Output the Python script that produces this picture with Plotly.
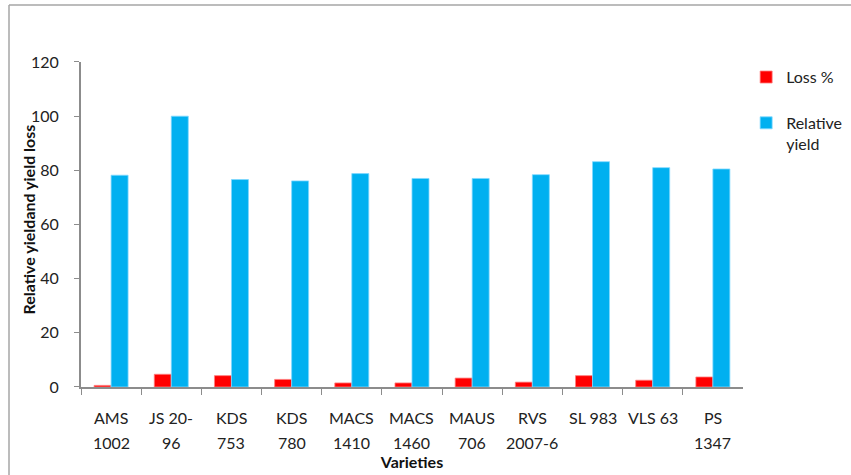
import plotly.graph_objects as go

varieties = ['AMS 1002', 'JS 20-96', 'KDS 753', 'KDS 780', 'MACS 1410',
             'MACS 1460', 'MAUS 706', 'RVS 2007-6', 'SL 983', 'VLS 63', 'PS 1347']
label_line1 = ['AMS', 'JS 20-', 'KDS', 'KDS', 'MACS', 'MACS', 'MAUS', 'RVS', 'SL 983', 'VLS 63', 'PS']
label_line2 = ['1002', '96', '753', '780', '1410', '1460', '706', '2007-6', '', '', '1347']
loss_pct = [0.6, 4.7, 4.2, 2.8, 1.5, 1.5, 3.3, 1.8, 4.2, 2.5, 3.7]
relative_yield = [78.2, 100.0, 76.6, 76.1, 78.8, 77.0, 77.0, 78.4, 83.2, 81.0, 80.5]

font_family = 'Lato, Calibri, Arial'
text_color = '#222'

fig = go.Figure()

fig.add_trace(go.Bar(
    x=varieties, y=loss_pct, name='Loss %', legendgroup='loss',
    marker=dict(color='#FF0000', line=dict(color='#FF8080', width=0.8))
))
fig.add_trace(go.Bar(
    x=varieties, y=relative_yield, name='Relative<br>yield', legendgroup='yield',
    marker=dict(color='#00B0F0', line=dict(color='#80D8FF', width=0.8))
))

# two-line category labels with Excel-like line spacing
for cat, l1, l2 in zip(varieties, label_line1, label_line2):
    fig.add_annotation(x=cat, xref='x', y=0, yref='paper', text=l1, showarrow=False,
                       yanchor='middle', yshift=-30,
                       font=dict(size=16, color=text_color, family=font_family))
    if l2:
        fig.add_annotation(x=cat, xref='x', y=0, yref='paper', text=l2, showarrow=False,
                           yanchor='middle', yshift=-55,
                           font=dict(size=16, color=text_color, family=font_family))

# y-axis title
fig.add_annotation(x=0, xref='paper', y=0.4683, yref='paper', yshift=5, xshift=-53,
                   text='<b>Relative yieldand yield loss</b>', textangle=-90,
                   showarrow=False, xanchor='center', yanchor='middle',
                   font=dict(size=16, color='#111', family=font_family))

fig.update_xaxes(
    domain=[0, 0.8597],
    title_text='<b>Varieties</b>',
    title_font=dict(size=16, color='#111', family=font_family),
    title_standoff=69,
    showline=True, linecolor='#8C8C8C', linewidth=1.5,
    ticks='outside', tickson='boundaries', ticklen=6, tickcolor='#8C8C8C',
    showticklabels=False,
    showgrid=False, automargin=False
)
fig.update_yaxes(
    domain=[0, 0.9366],
    range=[0, 120], dtick=20,
    showline=True, linecolor='#8C8C8C', linewidth=1.5,
    ticks='outside', ticklen=5, tickcolor='#8C8C8C',
    ticksuffix='\u00a0\u00a0\u00a0',
    tickfont=dict(size=16, color=text_color, family=font_family),
    showgrid=False, zeroline=False, automargin=False
)

# chart-area frame (only left and top edges fall inside the picture)
fig.add_shape(type='line', xref='paper', yref='paper',
              x0=-0.0935, x1=-0.0935, y0=-0.3, y1=1.101,
              line=dict(color='#A6A6A6', width=1.5))
fig.add_shape(type='line', xref='paper', yref='paper',
              x0=-0.0935, x1=1.1, y0=1.101, y1=1.101,
              line=dict(color='#A6A6A6', width=1.5))

fig.update_layout(
    width=851, height=475,
    barmode='group', bargap=0.435, bargroupgap=0,
    margin=dict(l=81, r=0, t=40, b=88),
    plot_bgcolor='white',
    paper_bgcolor='white',
    font=dict(family=font_family, color=text_color),
    legend=dict(
        x=0.995, y=0.942, xanchor='right', yanchor='top',
        font=dict(size=16, color=text_color, family=font_family),
        tracegroupgap=22, itemwidth=30, valign='top',
        bgcolor='rgba(0,0,0,0)'
    )
)

# drop the browser's default page margin so the figure sits at the window corner
fig.write_html("out.html", config={'displayModeBar': False},
               post_script="document.body.style.margin='0';")
